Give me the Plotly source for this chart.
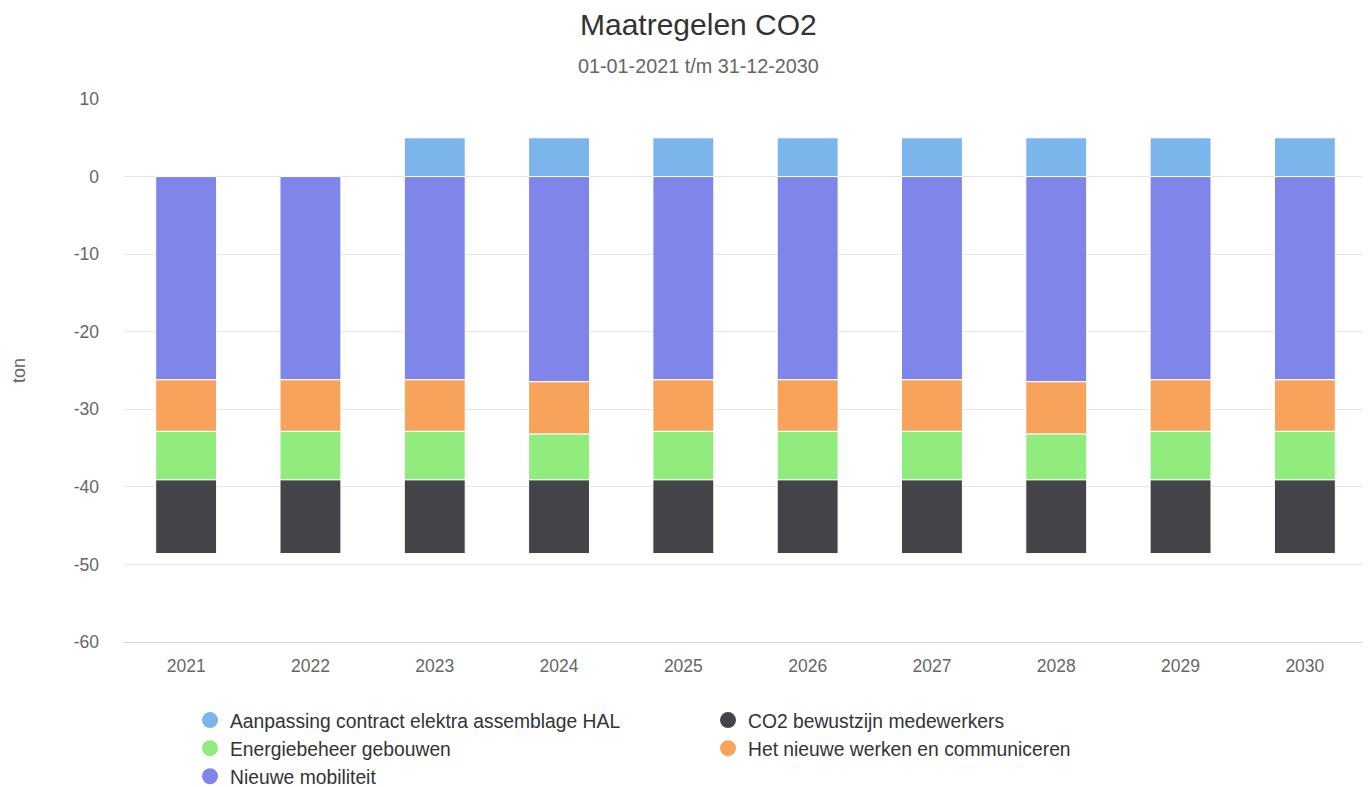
import plotly.graph_objects as go

years = ["2021", "2022", "2023", "2024", "2025", "2026", "2027", "2028", "2029", "2030"]

series_names = [
    "Aanpassing contract elektra assemblage HAL",
    "CO2 bewustzijn medewerkers",
    "Energiebeheer gebouwen",
    "Het nieuwe werken en communiceren",
    "Nieuwe mobiliteit",
]

aanpassing = [0, 0, 5, 5, 5, 5, 5, 5, 5, 5]
nieuwe_mobiliteit = [-26.2, -26.2, -26.2, -26.45, -26.2, -26.2, -26.2, -26.45, -26.2, -26.2]
nieuwe_werken = [-6.65, -6.65, -6.65, -6.75, -6.65, -6.65, -6.65, -6.75, -6.65, -6.65]
energiebeheer = [-6.25, -6.25, -6.25, -5.9, -6.25, -6.25, -6.25, -5.9, -6.25, -6.25]
co2_bewustzijn = [-9.5, -9.5, -9.5, -9.5, -9.5, -9.5, -9.5, -9.5, -9.5, -9.5]

y_tick_values = [10, 0, -10, -20, -30, -40, -50, -60]
y_tick_labels = ["10", "0", "-10", "-20", "-30", "-40", "-50", "-60"]

colors = {
    "Aanpassing contract elektra assemblage HAL": "#7cb5ec",
    "CO2 bewustzijn medewerkers": "#434348",
    "Energiebeheer gebouwen": "#90ed7d",
    "Het nieuwe werken en communiceren": "#f7a35c",
    "Nieuwe mobiliteit": "#8085e9",
}

# stacking order (from zero outward for negatives)
stack_order = [
    ("Aanpassing contract elektra assemblage HAL", aanpassing),
    ("Nieuwe mobiliteit", nieuwe_mobiliteit),
    ("Het nieuwe werken en communiceren", nieuwe_werken),
    ("Energiebeheer gebouwen", energiebeheer),
    ("CO2 bewustzijn medewerkers", co2_bewustzijn),
]

FONT = "Liberation Sans, Arial, Helvetica, sans-serif"

# the page body has an 8px margin, so the figure is drawn 8px in from the corner
W, H = 1362, 779
ML, MR, MT, MB = 116, 3, 91, 145
plot_w = W - ML - MR
plot_h = H - MT - MB

fig = go.Figure()
for name, vals in stack_order:
    fig.add_trace(go.Bar(
        x=years, y=[v if v != 0 else None for v in vals], name=name,
        marker=dict(color=colors[name], line=dict(color="#ffffff", width=1)),
        showlegend=False, legendgroup=name,
    ))

# legend entries with circle symbols, in legend order
for name in series_names:
    fig.add_trace(go.Scatter(
        x=[None], y=[None], mode="markers", name=name, legendgroup=name,
        marker=dict(color=colors[name], size=18, symbol="circle"),
        showlegend=True,
    ))


def px_x(px):
    return (px - ML) / plot_w


def px_y(py):
    return 1 + (MT - py) / plot_h


fig.update_layout(
    barmode="relative",
    bargap=0.51,
    width=W, height=H,
    paper_bgcolor="#ffffff", plot_bgcolor="#ffffff",
    margin=dict(l=ML, r=MR, t=MT, b=MB, autoexpand=False),
    font=dict(family=FONT, color="#666666"),
    showlegend=True,
    legend=dict(
        orientation="h", x=px_x(182), xanchor="left", y=px_y(693), yanchor="top",
        entrywidth=473, entrywidthmode="pixels",
        font=dict(size=19.3, color="#333333", family=FONT),
        itemsizing="trace", traceorder="normal",
    ),
    annotations=[
        dict(text="Maatregelen CO2", x=px_x(690), xref="paper", y=px_y(17), yref="paper",
             yanchor="middle", showarrow=False,
             font=dict(size=30, color="#333333", family=FONT)),
        dict(text="01-01-2021 t/m 31-12-2030", x=px_x(690), xref="paper", y=px_y(58), yref="paper",
             yanchor="middle", showarrow=False,
             font=dict(size=19.8, color="#666666", family=FONT)),
    ],
)

fig.update_xaxes(
    type="category", showgrid=False, showline=True, linecolor="#ccd6eb", linewidth=1,
    tickfont=dict(size=17.5, color="#666666"), ticks="", ticklabelstandoff=8,
)
fig.update_yaxes(
    range=[-60, 10], tickvals=y_tick_values, ticktext=y_tick_labels,
    showgrid=True, gridcolor="#e6e6e6", gridwidth=1,
    zeroline=False, tickfont=dict(size=17.5, color="#666666"), ticklabelstandoff=24,
    title=dict(text="ton", font=dict(size=18, color="#666666"), standoff=43),
)

fig.write_html("out.html")
